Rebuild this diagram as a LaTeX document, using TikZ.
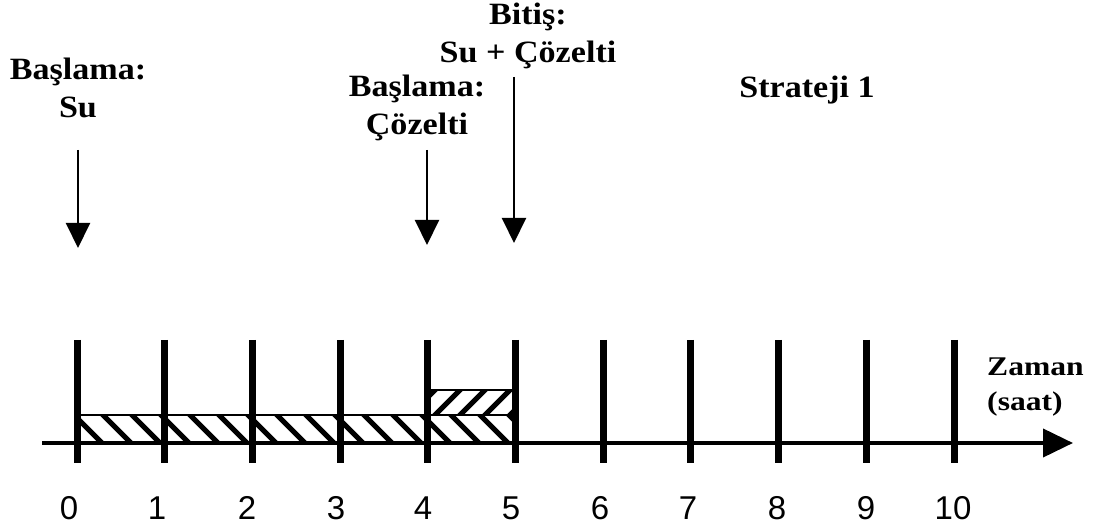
\documentclass[tikz,border=0pt]{standalone}
\usepackage{fontspec}
\setmainfont{Liberation Serif}
\newfontfamily\numfont{Liberation Sans}
\usetikzlibrary{arrows.meta}
\tikzset{
  label/.style={font=\bfseries\fontsize{31}{38}\selectfont, align=center, inner sep=0pt, anchor=base, xscale=1.1},
  axislabel/.style={font=\bfseries\fontsize{27}{35}\selectfont, align=left, inner sep=0pt, anchor=base west, xscale=1.17},
  num/.style={font=\numfont\fontsize{33}{33}\selectfont, inner sep=0pt, anchor=base},
  tick/.style={line width=7pt},
  event/.style={line width=2pt, -{Triangle[length=25pt,width=24pt]}},
  bar/.style={line width=2pt},
  hatch/.style={line width=5pt}
}
\begin{document}
\begin{tikzpicture}[x=1pt,y=-1pt]
\useasboundingbox (0,0) rectangle (1093,529);
% time axis
\coordinate (axstart) at (42,443);
\coordinate (axend) at (1073,443);
\draw[line width=4pt, -{Triangle[length=30pt,width=28pt]}] (axstart) -- (axend);
% hatched bar: water phase, hours 0-5
\begin{scope}
  \clip (77,415) rectangle (516,441);
  \foreach \k in {40,69,...,540} \draw[hatch] (\k,410) -- ++(36,36);
\end{scope}
\draw[bar] (77,415) -- (516,415);
% hatched bar: solution phase, hours 4-5
\begin{scope}
  \clip (428,390) rectangle (516,415);
  \foreach \k in {380,405,...,540} \draw[hatch] (\k,420) -- ++(35,-35);
\end{scope}
\draw[bar] (428,415) -- (428,390) -- (516,390) -- (516,415);
% hour ticks and labels
\foreach \i/\nx in {0/69,1/157,2/247,3/336,4/423,5/511,6/600,7/688,8/777,9/866,10/953} {
  \draw[tick] (77+87.7*\i,340) -- (77+87.7*\i,463);
  \node[num] (n\i) at (\nx,519) {\i};
}
\node[axislabel] (zaman) at (987,410) {Zaman\\(saat)};
% event labels and arrows
\node[label] (bas1) at (78,118) {Başlama:\\Su};
\node[label] (bas2) at (417,135) {Başlama:\\Çözelti};
\node[label] (bitis) at (528,63) {Bitiş:\\Su + Çözelti};
\node[label] (strat) at (807,98) {Strateji 1};
\coordinate (a1s) at (78,150);  \coordinate (a1e) at (78,248);
\coordinate (a2s) at (427,150); \coordinate (a2e) at (427,245);
\coordinate (a3s) at (514,77);  \coordinate (a3e) at (514,243);
\draw[event] (a1s) -- (a1e);
\draw[event] (a2s) -- (a2e);
\draw[event] (a3s) -- (a3e);
\end{tikzpicture}
\end{document}
